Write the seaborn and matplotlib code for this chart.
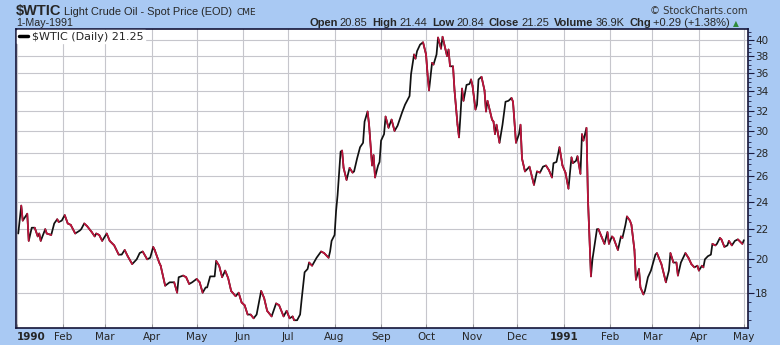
import numpy as np
import pandas as pd
import matplotlib
matplotlib.use('Agg')
import matplotlib.pyplot as plt
import matplotlib.dates as mdates
from matplotlib.collections import LineCollection
from matplotlib.lines import Line2D
from matplotlib.ticker import FixedLocator, FixedFormatter, NullFormatter
import seaborn as sns

sns.set_theme(style='white')
plt.rcParams['font.family'] = ['Liberation Sans', 'DejaVu Sans']

# daily close
dates = [
    '1990-01-02', '1990-01-04', '1990-01-05', '1990-01-08', '1990-01-09', '1990-01-11', '1990-01-13',
    '1990-01-15', '1990-01-16', '1990-01-17', '1990-01-20', '1990-01-21', '1990-01-24', '1990-01-26',
    '1990-01-28', '1990-01-29', '1990-01-31', '1990-02-02', '1990-02-04', '1990-02-06', '1990-02-09',
    '1990-02-12', '1990-02-13', '1990-02-15', '1990-02-17', '1990-02-20', '1990-02-22', '1990-02-23',
    '1990-02-25', '1990-02-27', '1990-03-02', '1990-03-04', '1990-03-07', '1990-03-10', '1990-03-12',
    '1990-03-14', '1990-03-16', '1990-03-19', '1990-03-22', '1990-03-24', '1990-03-26', '1990-03-29',
    '1990-03-31', '1990-04-02', '1990-04-03', '1990-04-06', '1990-04-07', '1990-04-10', '1990-04-13',
    '1990-04-14', '1990-04-16', '1990-04-18', '1990-04-19', '1990-04-22', '1990-04-24', '1990-04-26',
    '1990-04-28', '1990-05-01', '1990-05-03', '1990-05-05', '1990-05-07', '1990-05-08', '1990-05-10',
    '1990-05-13', '1990-05-14', '1990-05-16', '1990-05-18', '1990-05-20', '1990-05-22', '1990-05-24',
    '1990-05-27', '1990-05-29', '1990-05-31', '1990-06-02', '1990-06-04', '1990-06-06', '1990-06-08',
    '1990-06-10', '1990-06-13', '1990-06-15', '1990-06-17', '1990-06-20', '1990-06-23', '1990-06-25',
    '1990-06-28', '1990-06-30', '1990-07-02', '1990-07-04', '1990-07-05', '1990-07-07', '1990-07-09',
    '1990-07-10', '1990-07-12', '1990-07-14', '1990-07-15', '1990-07-17', '1990-07-20', '1990-07-23',
    '1990-07-25', '1990-07-28', '1990-07-29', '1990-07-30', '1990-08-01', '1990-08-02', '1990-08-03',
    '1990-08-05', '1990-08-06', '1990-08-07', '1990-08-09', '1990-08-11', '1990-08-13', '1990-08-14',
    '1990-08-16', '1990-08-18', '1990-08-20', '1990-08-21', '1990-08-23', '1990-08-24', '1990-08-26',
    '1990-08-27', '1990-08-28', '1990-08-30', '1990-08-31', '1990-09-01', '1990-09-03', '1990-09-04',
    '1990-09-06', '1990-09-08', '1990-09-10', '1990-09-12', '1990-09-15', '1990-09-17', '1990-09-20',
    '1990-09-21', '1990-09-23', '1990-09-24', '1990-09-25', '1990-09-27', '1990-09-29', '1990-10-01',
    '1990-10-02', '1990-10-03', '1990-10-05', '1990-10-06', '1990-10-08', '1990-10-09', '1990-10-11',
    '1990-10-12', '1990-10-14', '1990-10-15', '1990-10-16', '1990-10-17', '1990-10-19', '1990-10-20',
    '1990-10-22', '1990-10-23', '1990-10-24', '1990-10-25', '1990-10-26', '1990-10-28', '1990-10-30',
    '1990-10-31', '1990-11-01', '1990-11-03', '1990-11-04', '1990-11-05', '1990-11-07', '1990-11-09',
    '1990-11-10', '1990-11-11', '1990-11-14', '1990-11-15', '1990-11-16', '1990-11-17', '1990-11-19',
    '1990-11-21', '1990-11-23', '1990-11-25', '1990-11-27', '1990-11-28', '1990-11-30', '1990-12-02',
    '1990-12-03', '1990-12-04', '1990-12-06', '1990-12-09', '1990-12-12', '1990-12-14', '1990-12-16',
    '1990-12-18', '1990-12-20', '1990-12-22', '1990-12-24', '1990-12-25', '1990-12-27', '1990-12-29',
    '1990-12-31', '1991-01-02', '1991-01-04', '1991-01-06', '1991-01-07', '1991-01-09', '1991-01-10',
    '1991-01-12', '1991-01-13', '1991-01-14', '1991-01-16', '1991-01-17', '1991-01-19', '1991-01-20',
    '1991-01-23', '1991-01-24', '1991-01-26', '1991-01-28', '1991-01-30', '1991-01-31', '1991-02-02',
    '1991-02-03', '1991-02-06', '1991-02-08', '1991-02-09', '1991-02-11', '1991-02-12', '1991-02-14',
    '1991-02-15', '1991-02-17', '1991-02-18', '1991-02-20', '1991-02-21', '1991-02-23', '1991-02-24',
    '1991-02-26', '1991-02-28', '1991-03-03', '1991-03-04', '1991-03-07', '1991-03-10', '1991-03-12',
    '1991-03-13', '1991-03-15', '1991-03-17', '1991-03-18', '1991-03-20', '1991-03-23', '1991-03-25',
    '1991-03-27', '1991-03-29', '1991-03-31', '1991-04-01', '1991-04-03', '1991-04-04', '1991-04-05',
    '1991-04-07', '1991-04-09', '1991-04-10', '1991-04-12', '1991-04-13', '1991-04-15', '1991-04-16',
    '1991-04-18', '1991-04-20', '1991-04-21', '1991-04-23', '1991-04-25', '1991-04-27', '1991-04-30',
    '1991-05-01',
]
close = [
    21.7, 23.7, 22.6, 23.1, 21.2, 22.1, 22.1,
    21.5, 21.7, 21.2, 22.0, 21.7, 21.6, 22.4,
    22.7, 22.5, 22.6, 23.0, 22.4, 22.3, 21.7,
    21.9, 22.0, 22.4, 22.2, 21.8, 21.5, 21.7,
    21.6, 21.2, 21.7, 21.2, 20.9, 20.3, 20.3,
    20.6, 20.2, 19.7, 20.0, 20.4, 20.5, 20.0,
    20.1, 20.8, 20.6, 19.8, 19.6, 18.4, 18.6,
    18.6, 18.6, 18.0, 18.9, 19.0, 18.9, 18.5,
    18.6, 18.8, 18.6, 18.0, 18.3, 18.3, 18.95,
    18.95, 19.9, 19.6, 18.9, 19.3, 18.85, 18.1,
    17.8, 18.0, 17.45, 17.3, 16.8, 16.8, 16.6,
    16.8, 18.1, 17.7, 17.0, 16.7, 17.4, 17.3,
    16.7, 17.0, 16.6, 16.7, 16.5, 16.5, 16.8,
    17.6, 19.2, 19.4, 19.8, 19.6, 20.1, 20.5,
    20.4, 20.1, 20.5, 21.2, 21.6, 23.3, 24.5,
    28.1, 28.2, 26.7, 25.7, 26.7, 26.3, 26.4,
    27.5, 28.5, 28.9, 30.9, 31.9, 30.6, 26.9,
    27.8, 25.9, 26.9, 27.2, 29.1, 29.7, 31.4,
    30.3, 31.1, 30.0, 30.5, 31.8, 32.6, 33.5,
    35.9, 38.2, 37.7, 38.6, 39.4, 39.7, 38.2,
    35.9, 34.1, 37.2, 37.0, 38.2, 40.3, 38.9,
    40.4, 38.8, 38.0, 38.8, 36.8, 36.8, 34.1,
    30.6, 29.4, 31.6, 34.3, 33.0, 34.7, 34.8,
    35.3, 34.6, 32.1, 32.6, 35.3, 35.6, 34.1,
    31.9, 33.0, 31.1, 30.9, 29.7, 30.6, 28.9,
    30.6, 32.9, 33.0, 33.3, 32.9, 28.9, 29.7,
    30.6, 27.5, 26.4, 26.8, 25.3, 26.4, 26.3,
    26.8, 26.9, 26.5, 25.9, 27.1, 27.2, 28.5,
    26.9, 26.3, 25.0, 27.6, 27.1, 27.3, 27.7,
    26.2, 29.7, 29.1, 30.3, 24.2, 18.95, 20.0,
    22.0, 22.0, 21.5, 21.0, 21.8, 21.0, 21.5,
    21.4, 20.6, 21.5, 21.4, 22.3, 22.9, 22.6,
    22.3, 20.6, 18.75, 19.4, 18.3, 17.9, 18.1,
    18.9, 19.3, 20.3, 20.4, 19.7, 18.6, 19.3,
    20.4, 19.8, 19.8, 19.0, 19.8, 20.4, 20.1,
    19.7, 19.5, 19.6, 19.3, 19.6, 19.5, 20.0,
    20.2, 20.3, 21.0, 20.9, 21.0, 21.4, 21.3,
    20.8, 20.9, 21.2, 20.9, 21.2, 21.3, 21.0,
    21.25,
]

y_ticks = [18, 20, 22, 24, 26, 28, 30, 32, 34, 36, 38, 40]
month_starts = pd.date_range('1990-01-01', '1991-05-01', freq='MS')
month_labels = ['1990', 'Feb', 'Mar', 'Apr', 'May', 'Jun', 'Jul', 'Aug', 'Sep',
                'Oct', 'Nov', 'Dec', '1991', 'Feb', 'Mar', 'Apr', 'May']

quote_labels = ['Open', 'High', 'Low', 'Close', 'Volume', 'Chg']
quote_values = ['20.85', '21.44', '20.84', '21.25', '36.9K', '+0.29 (+1.38%)']

df = pd.DataFrame({'date': pd.to_datetime(dates), 'close': close})

W, H = 780, 345
bg = '#a9c9f3'
up_col = '#111111'
down_col = '#c0143c'

fig = plt.figure(figsize=(W / 100, H / 100), dpi=100, facecolor=bg)
ax = fig.add_axes([16 / W, 1 - 328 / H, (748 - 16) / W, (328 - 29) / H])
ax.set_facecolor('white')

# base line in black, then overlay the falling segments in red
sns.lineplot(data=df, x='date', y='close', ax=ax, color=up_col, lw=1.25, legend=False)
xn = mdates.date2num(df['date'])
yv = df['close'].to_numpy()
segs = [[(xn[i], yv[i]), (xn[i + 1], yv[i + 1])] for i in range(len(xn) - 1) if yv[i + 1] < yv[i]]
ax.add_collection(LineCollection(segs, colors=down_col, linewidths=1.25, capstyle='round', zorder=3))

ax.set_yscale('log')
ax.set_ylim(16.1, 41.4)
ax.set_xlim(pd.Timestamp('1989-12-31 12:00'), pd.Timestamp('1991-05-03 18:00'))

ax.yaxis.set_major_locator(FixedLocator(y_ticks))
ax.yaxis.set_major_formatter(FixedFormatter([str(v) for v in y_ticks]))
ax.yaxis.set_minor_locator(FixedLocator(np.arange(16.5, 41.5, 0.5)))
ax.yaxis.set_minor_formatter(NullFormatter())
ax.yaxis.tick_right()
ax.tick_params(axis='y', which='major', direction='out', length=4, width=0.8, color='#1a1a40',
               labelsize=7.5, pad=1, right=True, left=False)
ax.tick_params(axis='y', which='minor', direction='out', length=2, width=0.6, color='#1a1a40',
               right=True, left=False)
for lab in ax.get_yticklabels():
    lab.set_fontfamily('DejaVu Sans')

ax.set_xticks(month_starts)
ax.set_xticklabels(month_labels)
ax.tick_params(axis='x', which='major', direction='in', length=3, width=0.6, color='#888888',
               labelsize=7.5, pad=3, bottom=True)
for lab in ax.get_xticklabels():
    lab.set_fontfamily('DejaVu Sans')
    if lab.get_text() in ('1990', '1991'):
        lab.set_fontweight('bold')
ax.get_xticklabels()[0].set_horizontalalignment('left')

ax.grid(True, which='major', color='#c6c6cc', lw=0.8)
ax.set_axisbelow(True)
for s in ax.spines.values():
    s.set_color('#141438')
    s.set_linewidth(1.2)
ax.set_xlabel('')
ax.set_ylabel('')

ax.legend(handles=[Line2D([], [], color='black', lw=2.5)], labels=['$WTIC (Daily) 21.25'],
          loc='upper left', bbox_to_anchor=(0.0, 1.0), frameon=True, fancybox=False,
          facecolor='white', edgecolor='white', framealpha=1, borderpad=0.15,
          handlelength=0.8, handletextpad=0.4, borderaxespad=0.1,
          prop={'family': 'DejaVu Sans', 'size': 8})

r = fig.canvas.get_renderer()


def put(x, y, s, **kw):
    t = fig.text(x / W, 1 - y / H, s, va='baseline', ha='left', **kw)
    return x + t.get_window_extent(r).width


# header
x = put(16, 15, '$WTIC', fontsize=10.5, fontweight='bold')
x = put(x + 3, 15, 'Light Crude Oil - Spot Price (EOD)', fontsize=7.9)
put(x + 4, 15, 'CME', fontsize=6.5, family='DejaVu Sans')
put(16, 26, '1-May-1991', fontsize=7.7)
fig.text(748 / W, 1 - 14 / H, '\u00a9 StockCharts.com', ha='right', va='baseline',
         fontsize=7.2, color='#333333', family='DejaVu Sans')

x = 309
for lbl, val in zip(quote_labels, quote_values):
    x = put(x, 26, lbl, fontsize=8, fontweight='bold') + 2
    x = put(x, 26, val, fontsize=8) + 5
put(x - 2, 26, '\u25b2', fontsize=5.5, color='#2e8b3a', family='DejaVu Sans')

fig.savefig('out.png', dpi=100, facecolor=bg)
